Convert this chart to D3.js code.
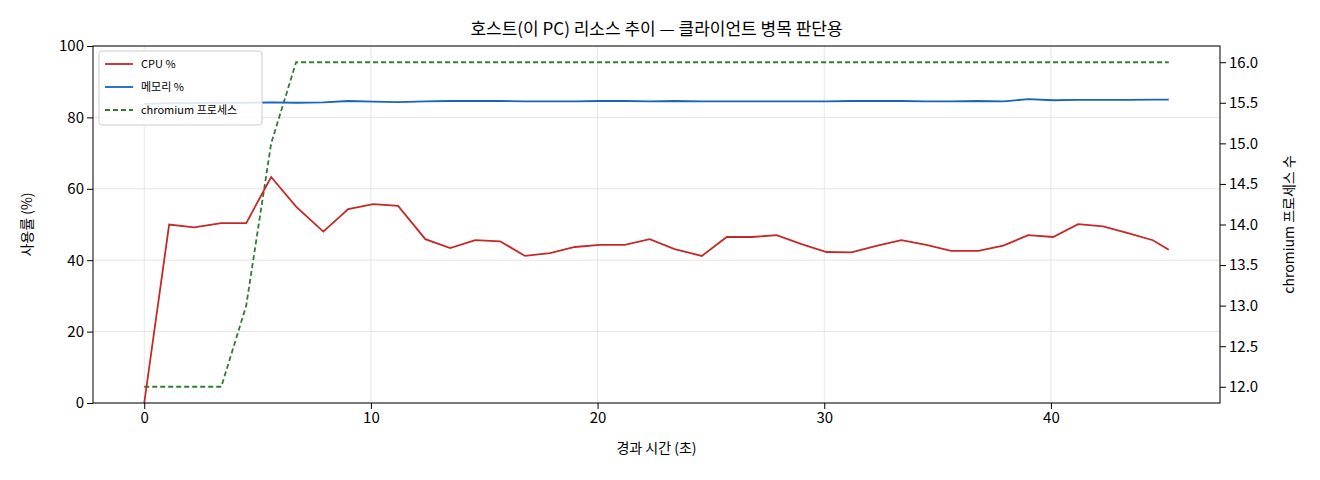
<!DOCTYPE html><html><head><meta charset="utf-8"><script src="https://cdn.jsdelivr.net/npm/d3@7"></script>
<style>body{margin:0;background:#fff}text{font-family:"Noto Sans CJK KR","DejaVu Sans",sans-serif}</style></head><body><svg id="c" width="1320" height="480"></svg><script>
const times=[0,1.1,2.2,3.4,4.5,5.6,6.7,7.9,9,10.1,11.2,12.4,13.5,14.6,15.7,16.8,17.9,19,20.1,21.2,22.3,23.4,24.6,25.7,26.8,27.9,29,30.1,31.2,32.3,33.4,34.5,35.6,36.8,37.9,39,40.1,41.2,42.3,43.4,44.5,45.2];
const cpu=[0,50,49.2,50.4,50.4,63.3,55,48,54.3,55.7,55.2,45.9,43.4,45.6,45.3,41.2,42,43.7,44.3,44.3,45.9,43.1,41.2,46.5,46.5,47,44.5,42.3,42.2,44,45.6,44.3,42.6,42.6,44.1,47,46.5,50.1,49.5,47.6,45.6,42.9];
const mem=[83.8,84,84,84.1,84.1,84.2,84.1,84.2,84.6,84.4,84.3,84.5,84.6,84.6,84.6,84.5,84.5,84.5,84.6,84.6,84.5,84.6,84.5,84.5,84.5,84.5,84.5,84.5,84.6,84.6,84.6,84.5,84.5,84.6,84.5,85.1,84.8,84.9,84.9,84.9,85,85];
const procs=[12,12,12,12,13,15,16,16,16,16,16,16,16,16,16,16,16,16,16,16,16,16,16,16,16,16,16,16,16,16,16,16,16,16,16,16,16,16,16,16,16,16];
const xTicks=[0,10,20,30,40],yTicks=[0,20,40,60,80,100],y2Ticks=[12,12.5,13,13.5,14,14.5,15,15.5,16];
const svg=d3.select("#c"),L=93,R=1220,T=46,B=403;
const x=d3.scaleLinear().domain([-2.26,47.46]).range([L,R]);
const y=d3.scaleLinear().domain([0,100]).range([B,T]);
const y2=d3.scaleLinear().domain([11.8,16.2]).range([B,T]);
const g=svg.append("g");
xTicks.forEach(t=>g.append("line").attr("x1",x(t)).attr("x2",x(t)).attr("y1",T).attr("y2",B).attr("stroke","#e6e6e6"));
yTicks.forEach(t=>g.append("line").attr("x1",L).attr("x2",R).attr("y1",y(t)).attr("y2",y(t)).attr("stroke","#e6e6e6"));
const ln=(ys,sc)=>d3.line().x((d,i)=>x(times[i])).y(d=>sc(d))(ys);
svg.append("path").attr("d",ln(procs,y2)).attr("fill","none").attr("stroke","#2e7d32").attr("stroke-width",1.8).attr("stroke-dasharray","5,3");
svg.append("path").attr("d",ln(cpu,y)).attr("fill","none").attr("stroke","#c62828").attr("stroke-width",1.8);
svg.append("path").attr("d",ln(mem,y)).attr("fill","none").attr("stroke","#1565c0").attr("stroke-width",1.8);
const fs="15px";
svg.append("g").attr("transform",`translate(0,${B})`).call(d3.axisBottom(x).tickValues(xTicks).tickSizeOuter(0)).selectAll("text").style("font-size",fs);
svg.append("g").attr("transform",`translate(${L},0)`).call(d3.axisLeft(y).tickValues(yTicks).tickSizeOuter(0)).selectAll("text").style("font-size",fs);
svg.append("g").attr("transform",`translate(${R},0)`).call(d3.axisRight(y2).tickValues(y2Ticks).tickFormat(d3.format(".1f")).tickSizeOuter(0)).selectAll("text").style("font-size",fs);
svg.selectAll(".domain").remove();
svg.append("rect").attr("x",L).attr("y",T).attr("width",R-L).attr("height",B-T).attr("fill","none").attr("stroke","#000");
svg.append("text").attr("x",(L+R)/2).attr("y",35).attr("text-anchor","middle").style("font-size","17px").text("호스트(이 PC) 리소스 추이 — 클라이언트 병목 판단용");
svg.append("text").attr("x",(L+R)/2).attr("y",453).attr("text-anchor","middle").style("font-size","14px").text("경과 시간 (초)");
svg.append("text").attr("transform",`translate(32,${(T+B)/2}) rotate(-90)`).attr("text-anchor","middle").style("font-size","14px").text("사용률 (%)");
svg.append("text").attr("transform",`translate(1294,${(T+B)/2}) rotate(-90)`).attr("text-anchor","middle").style("font-size","14px").text("chromium 프로세스 수");
const lg=svg.append("g").attr("transform","translate(99,51)");
lg.append("rect").attr("width",163).attr("height",74).attr("rx",3).attr("fill","#fff").attr("fill-opacity",0.85).attr("stroke","#ccc");
[["CPU %","#c62828",null],["메모리 %","#1565c0",null],["chromium 프로세스","#2e7d32","5,3"]].forEach((d,i)=>{
const yy=13+i*23;
lg.append("line").attr("x1",6).attr("x2",34).attr("y1",yy).attr("y2",yy).attr("stroke",d[1]).attr("stroke-width",1.8).attr("stroke-dasharray",d[2]);
lg.append("text").attr("x",42).attr("y",yy+4).style("font-size","11px").text(d[0]);});
</script></body></html>
